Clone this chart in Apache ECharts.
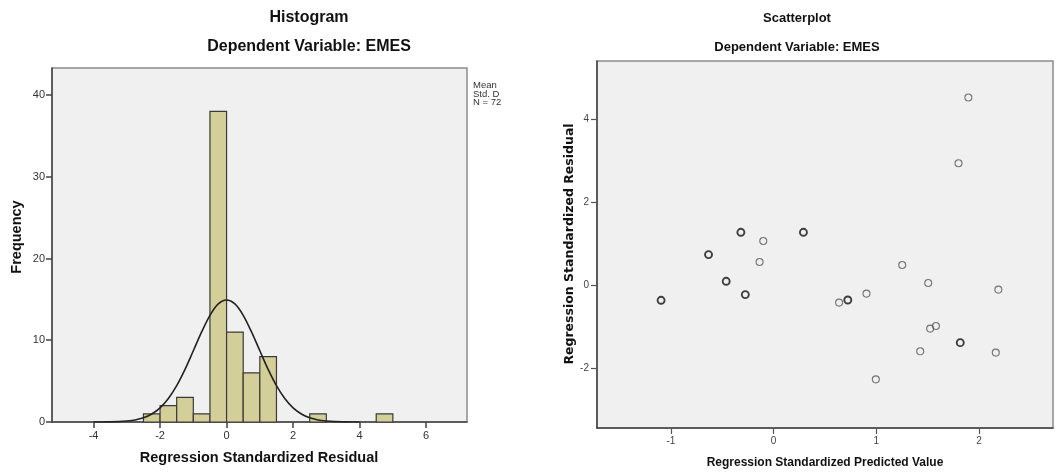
<!DOCTYPE html>
<html>
<head>
<meta charset="utf-8">
<script src="https://cdn.jsdelivr.net/npm/echarts@6/dist/echarts.min.js"></script>
<style>
html,body{margin:0;padding:0;background:#fff;}
#c{width:1056px;height:472px;}
</style>
</head>
<body>
<div id="c"></div>
<script>
// ---- Histogram data ----
const binWidth = 0.5;
const binStarts = [-2.5, -2, -1.5, -1, -0.5, 0, 0.5, 1, 2.5, 4.5];
const binCounts = [1, 2, 3, 1, 38, 11, 6, 8, 1, 1];
// normal curve
const curveX = [-4,-3.75,-3.5,-3.25,-3,-2.75,-2.5,-2.25,-2,-1.75,-1.5,-1.25,-1,-0.75,-0.5,-0.25,0,0.25,0.5,0.75,1,1.25,1.5,1.75,2,2.25,2.5,2.75,3,3.25,3.5,3.75,4];
const curveY = [0.002,0.007,0.02,0.05,0.12,0.25,0.51,0.98,1.73,2.87,4.44,6.43,8.71,11.02,13.05,14.44,14.93,14.44,13.05,11.02,8.71,6.43,4.44,2.87,1.73,0.98,0.51,0.25,0.12,0.05,0.02,0.007,0.002];
const histXTicks = [-4, -2, 0, 2, 4, 6];
const histYTicks = [0, 10, 20, 30, 40];
const statsLines = ['Mean = -1.13E-15', 'Std. Dev. = 0.972', 'N = 72'];

// ---- Scatterplot data ----
const predSingle  = [-0.137, -0.101, 1.896, 1.80, 1.252, 1.505, 2.188, 0.904, 0.637, 1.524, 1.58, 1.427, 2.163, 0.995];
const residSingle = [0.569, 1.075, 4.53, 2.947, 0.496, 0.063, -0.096, -0.193, -0.41, -1.036, -0.973, -1.583, -1.614, -2.258];
const predRepeated  = [-1.096, -0.634, -0.462, -0.319, -0.276, 0.29, 0.722, 1.817];
const residRepeated = [-0.354, 0.747, 0.104, 1.284, -0.217, 1.284, -0.347, -1.374];
const scatXTicks = [-1, 0, 1, 2];
const scatYTicks = [-2, 0, 2, 4];

const chart = echarts.init(document.getElementById('c'), null, {renderer: 'canvas'});

const axisLineDark = {show: true, onZero: false, lineStyle: {color: '#444', width: 1.5}};
const ff = 'Liberation Sans, Arial, sans-serif';

const option = {
  backgroundColor: '#fff',
  animation: false,
  grid: [
    {left: 52, top: 68, width: 415, height: 354, show: true, backgroundColor: '#f0f0f0', borderColor: '#8a8a8a', borderWidth: 1.5},
    {left: 597, top: 61, width: 456, height: 367, show: true, backgroundColor: '#f0f0f0', borderColor: '#8a8a8a', borderWidth: 1.5}
  ],
  xAxis: [
    {gridIndex: 0, type: 'value', min: -5.25, max: 7.23,
      axisLine: axisLineDark, splitLine: {show: false},
      axisTick: {show: true, length: 6, lineStyle: {color: '#444', width: 1.5}, customValues: histXTicks},
      axisLabel: {customValues: histXTicks, color: '#333', fontSize: 11, fontFamily: ff, margin: 8}},
    {gridIndex: 1, type: 'value', min: -1.72, max: 2.72,
      axisLine: axisLineDark, splitLine: {show: false},
      axisTick: {show: true, length: 6, lineStyle: {color: '#555', width: 1.2}, customValues: scatXTicks},
      axisLabel: {customValues: scatXTicks, color: '#444', fontSize: 10, fontFamily: ff, margin: 8}}
  ],
  yAxis: [
    {gridIndex: 0, type: 'value', min: 0, max: 43.3,
      axisLine: axisLineDark, splitLine: {show: false},
      axisTick: {show: true, length: 6, lineStyle: {color: '#444', width: 1.5}, customValues: histYTicks},
      axisLabel: {customValues: histYTicks, color: '#333', fontSize: 11, fontFamily: ff, margin: 7}},
    {gridIndex: 1, type: 'value', min: -3.43, max: 5.41,
      axisLine: axisLineDark, splitLine: {show: false},
      axisTick: {show: true, length: 6, lineStyle: {color: '#555', width: 1.2}, customValues: scatYTicks},
      axisLabel: {customValues: scatYTicks, color: '#444', fontSize: 10, fontFamily: ff, margin: 8}}
  ],
  series: [
    {
      type: 'custom', xAxisIndex: 0, yAxisIndex: 0,
      data: binStarts.map((s, i) => [s, s + binWidth, binCounts[i]]),
      renderItem: function (params, api) {
        const p0 = api.coord([api.value(0), api.value(2)]);
        const p1 = api.coord([api.value(1), 0]);
        return {
          type: 'rect',
          shape: {x: p0[0], y: p0[1], width: p1[0] - p0[0], height: p1[1] - p0[1]},
          style: {fill: '#d4cf98', stroke: '#3a3a3a', lineWidth: 1.2}
        };
      },
      z: 2
    },
    {
      type: 'line', xAxisIndex: 0, yAxisIndex: 0,
      data: curveX.map((x, i) => [x, curveY[i]]),
      smooth: 0.3, showSymbol: false, symbol: 'none',
      lineStyle: {color: '#222', width: 1.6},
      z: 3
    },
    {
      type: 'scatter', xAxisIndex: 1, yAxisIndex: 1,
      data: predSingle.map((x, i) => [x, residSingle[i]]),
      symbol: 'circle', symbolSize: 7,
      itemStyle: {color: 'rgba(0,0,0,0)', borderColor: '#555', borderWidth: 1.1}
    },
    {
      type: 'scatter', xAxisIndex: 1, yAxisIndex: 1,
      data: predRepeated.map((x, i) => [x, residRepeated[i]]),
      symbol: 'circle', symbolSize: 7,
      itemStyle: {color: 'rgba(0,0,0,0)', borderColor: '#111', borderWidth: 1.9}
    }
  ],
  graphic: [
    {type: 'text', x: 309, y: 18, style: {text: 'Histogram', font: 'bold 16px ' + ff, fill: '#111', align: 'center', verticalAlign: 'middle'}},
    {type: 'text', x: 309, y: 47, style: {text: 'Dependent Variable: EMES', font: 'bold 16px ' + ff, fill: '#111', align: 'center', verticalAlign: 'middle'}},
    {type: 'text', x: 17, y: 237, rotation: Math.PI / 2, style: {text: 'Frequency', font: 'bold 14.5px ' + ff, fill: '#111', align: 'center', verticalAlign: 'middle'}},
    {type: 'text', x: 259, y: 458, style: {text: 'Regression Standardized Residual', font: 'bold 14.5px ' + ff, fill: '#111', align: 'center', verticalAlign: 'middle'}},
    {type: 'text', x: 473, y: 81, style: {text: statsLines.join('\n'), font: '9.5px ' + ff, lineHeight: 8.6, fill: '#333', width: 32, overflow: 'truncate', ellipsis: '', align: 'left', verticalAlign: 'top'}},
    {type: 'text', x: 797, y: 18, style: {text: 'Scatterplot', font: 'bold 13px ' + ff, fill: '#111', align: 'center', verticalAlign: 'middle'}},
    {type: 'text', x: 797, y: 47, style: {text: 'Dependent Variable: EMES', font: 'bold 13px ' + ff, fill: '#111', align: 'center', verticalAlign: 'middle'}},
    {type: 'text', x: 570, y: 244, rotation: Math.PI / 2, style: {text: 'Regression Standardized Residual', font: 'bold 12.5px DejaVu Sans, sans-serif', fill: '#111', align: 'center', verticalAlign: 'middle'}},
    {type: 'text', x: 825, y: 463, style: {text: 'Regression Standardized Predicted Value', font: 'bold 12px ' + ff, fill: '#111', align: 'center', verticalAlign: 'middle'}}
  ]
};
chart.setOption(option);
</script>
</body>
</html>
